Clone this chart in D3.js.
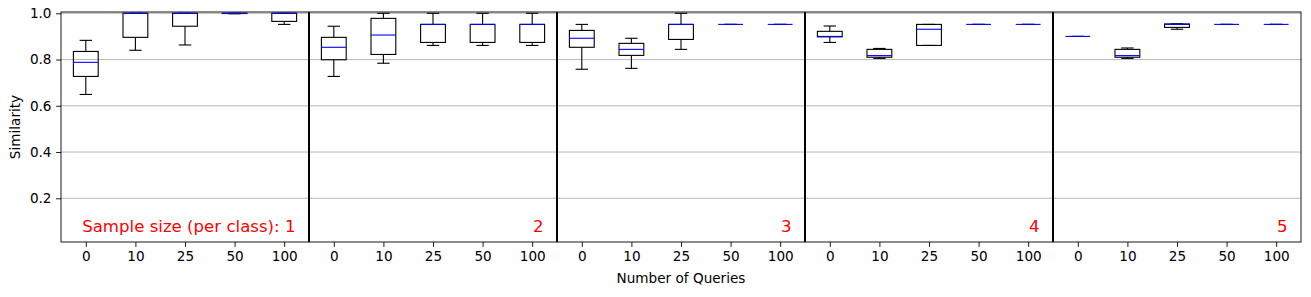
<!DOCTYPE html>
<html>
<head>
<meta charset="utf-8">
<script src="https://cdn.jsdelivr.net/npm/d3@7"></script>
<style>
  html, body { margin: 0; padding: 0; background: #fff; }
  svg { display: block; font-family: "DejaVu Sans", sans-serif; }
</style>
</head>
<body>
<svg id="chart" width="1311" height="297"></svg>
<script>
// ---- data ----
const queryLabels = ["0", "10", "25", "50", "100"];
const sampleSizes = [1, 2, 3, 4, 5];
const yTicks = [0.2, 0.4, 0.6, 0.8, 1.0];
// five-number summaries per box: [lowerWhisker, q1, median, q3, upperWhisker]
const size1 = [
  [0.649, 0.727, 0.788, 0.835, 0.883],
  [0.840, 0.896, 1.000, 1.000, 1.000],
  [0.863, 0.944, 1.000, 1.000, 1.000],
  [0.998, 0.999, 1.000, 1.000, 1.000],
  [0.952, 0.965, 1.000, 1.000, 1.000]
];
const size2 = [
  [0.727, 0.799, 0.853, 0.896, 0.944],
  [0.784, 0.822, 0.906, 0.978, 1.000],
  [0.861, 0.874, 0.952, 0.952, 1.000],
  [0.861, 0.874, 0.952, 0.952, 1.000],
  [0.861, 0.874, 0.952, 0.952, 1.000]
];
const size3 = [
  [0.758, 0.853, 0.892, 0.926, 0.952],
  [0.762, 0.818, 0.844, 0.870, 0.892],
  [0.844, 0.887, 0.952, 0.952, 1.000],
  [0.952, 0.952, 0.952, 0.952, 0.952],
  [0.952, 0.952, 0.952, 0.952, 0.952]
];
const size4 = [
  [0.874, 0.898, 0.900, 0.922, 0.945],
  [0.805, 0.810, 0.817, 0.844, 0.848],
  [0.861, 0.861, 0.931, 0.952, 0.952],
  [0.952, 0.952, 0.952, 0.952, 0.952],
  [0.952, 0.952, 0.952, 0.952, 0.952]
];
const size5 = [
  [0.900, 0.900, 0.900, 0.900, 0.900],
  [0.805, 0.810, 0.817, 0.844, 0.850],
  [0.931, 0.939, 0.952, 0.954, 0.954],
  [0.952, 0.952, 0.952, 0.952, 0.952],
  [0.952, 0.952, 0.952, 0.952, 0.952]
];
const panels = [size1, size2, size3, size4, size5];

// ---- layout ----
const svg = d3.select("#chart");
const pLeft = 61, pRight = 1301, pTop = 12, pBottom = 242;
const nPer = queryLabels.length;
const nTotal = nPer * panels.length;
const tickFont = "13.6px";

const x = d3.scaleLinear().domain([0.5, nTotal + 0.5]).range([pLeft, pRight]);
const y = d3.scaleLinear().domain([0.011, 1.0056]).range([pBottom, pTop]);

// boxes flattened
const boxes = [];
panels.forEach((p, pi) => p.forEach((s, qi) => {
  boxes.push({pos: pi * nPer + qi + 1, lo: s[0], q1: s[1], med: s[2], q3: s[3], hi: s[4]});
}));

// grid
svg.append("g").selectAll("line").data(yTicks).join("line")
  .attr("x1", pLeft).attr("x2", pRight)
  .attr("y1", d => y(d)).attr("y2", d => y(d))
  .attr("stroke", "#b0b0b0").attr("stroke-width", 0.9);

// boxes
const bw = 0.5;
const g = svg.append("g");
const bx = g.selectAll("g").data(boxes).join("g");
// whiskers
bx.append("line").attr("x1", d => x(d.pos)).attr("x2", d => x(d.pos))
  .attr("y1", d => y(d.q3)).attr("y2", d => y(d.hi))
  .attr("stroke", "#000").attr("stroke-width", 1.1);
bx.append("line").attr("x1", d => x(d.pos)).attr("x2", d => x(d.pos))
  .attr("y1", d => y(d.q1)).attr("y2", d => y(d.lo))
  .attr("stroke", "#000").attr("stroke-width", 1.1);
// caps
bx.append("line").attr("x1", d => x(d.pos - bw / 4)).attr("x2", d => x(d.pos + bw / 4))
  .attr("y1", d => y(d.hi)).attr("y2", d => y(d.hi))
  .attr("stroke", "#000").attr("stroke-width", 1.1);
bx.append("line").attr("x1", d => x(d.pos - bw / 4)).attr("x2", d => x(d.pos + bw / 4))
  .attr("y1", d => y(d.lo)).attr("y2", d => y(d.lo))
  .attr("stroke", "#000").attr("stroke-width", 1.1);
// box
bx.append("rect").attr("x", d => x(d.pos - bw / 2))
  .attr("width", x(bw) - x(0))
  .attr("y", d => y(d.q3)).attr("height", d => y(d.q1) - y(d.q3))
  .attr("fill", "none").attr("stroke", "#000").attr("stroke-width", 1.1);
// median
bx.append("line").attr("x1", d => x(d.pos - bw / 2)).attr("x2", d => x(d.pos + bw / 2))
  .attr("y1", d => y(d.med)).attr("y2", d => y(d.med))
  .attr("stroke", "#0000ff").attr("stroke-width", 1.1);

// panel separators
const seps = d3.range(1, panels.length).map(i => i * nPer + 0.5);
svg.append("g").selectAll("line").data(seps).join("line")
  .attr("x1", d => x(d)).attr("x2", d => x(d))
  .attr("y1", pTop).attr("y2", pBottom)
  .attr("stroke", "#000").attr("stroke-width", 2);

// sample size labels
svg.append("g").selectAll("text").data(sampleSizes).join("text")
  .attr("x", (d, i) => x((i + 1) * nPer + 0.5) - 13.5)
  .attr("y", 231.5)
  .attr("text-anchor", "end")
  .attr("fill", "#ff0000")
  .attr("font-size", "16.6px")
  .text((d, i) => i === 0 ? "Sample size (per class): " + d : String(d));

// axes
const xAxis = d3.axisBottom(x)
  .tickValues(d3.range(1, nTotal + 1))
  .tickFormat(d => queryLabels[(d - 1) % nPer])
  .tickSizeInner(4.9).tickSizeOuter(0).tickPadding(4.6);
const xa = svg.append("g").attr("transform", `translate(0,${pBottom})`).call(xAxis);
xa.attr("font-size", tickFont).attr("font-family", "DejaVu Sans");
xa.select(".domain").remove();
xa.selectAll("line").attr("stroke", "#000").attr("stroke-width", 0.9);
xa.selectAll("text").attr("fill", "#000");

const yAxis = d3.axisLeft(y).tickValues(yTicks).tickFormat(d3.format(".1f"))
  .tickSizeInner(4.9).tickSizeOuter(0).tickPadding(4.6);
const ya = svg.append("g").attr("transform", `translate(${pLeft},0)`).call(yAxis);
ya.attr("font-size", tickFont).attr("font-family", "DejaVu Sans");
ya.select(".domain").remove();
ya.selectAll("line").attr("stroke", "#000").attr("stroke-width", 0.9);
ya.selectAll("text").attr("fill", "#000");

// frame
svg.append("rect").attr("x", pLeft).attr("y", pTop)
  .attr("width", pRight - pLeft).attr("height", pBottom - pTop)
  .attr("fill", "none").attr("stroke", "#000").attr("stroke-width", 0.9);

// axis labels
svg.append("text").attr("x", (pLeft + pRight) / 2).attr("y", 283)
  .attr("text-anchor", "middle").attr("font-size", tickFont).attr("fill", "#000")
  .text("Number of Queries");
svg.append("text")
  .attr("transform", `translate(20,${(pTop + pBottom) / 2}) rotate(-90)`)
  .attr("text-anchor", "middle").attr("font-size", tickFont).attr("fill", "#000")
  .text("Similarity");
</script>
</body>
</html>
